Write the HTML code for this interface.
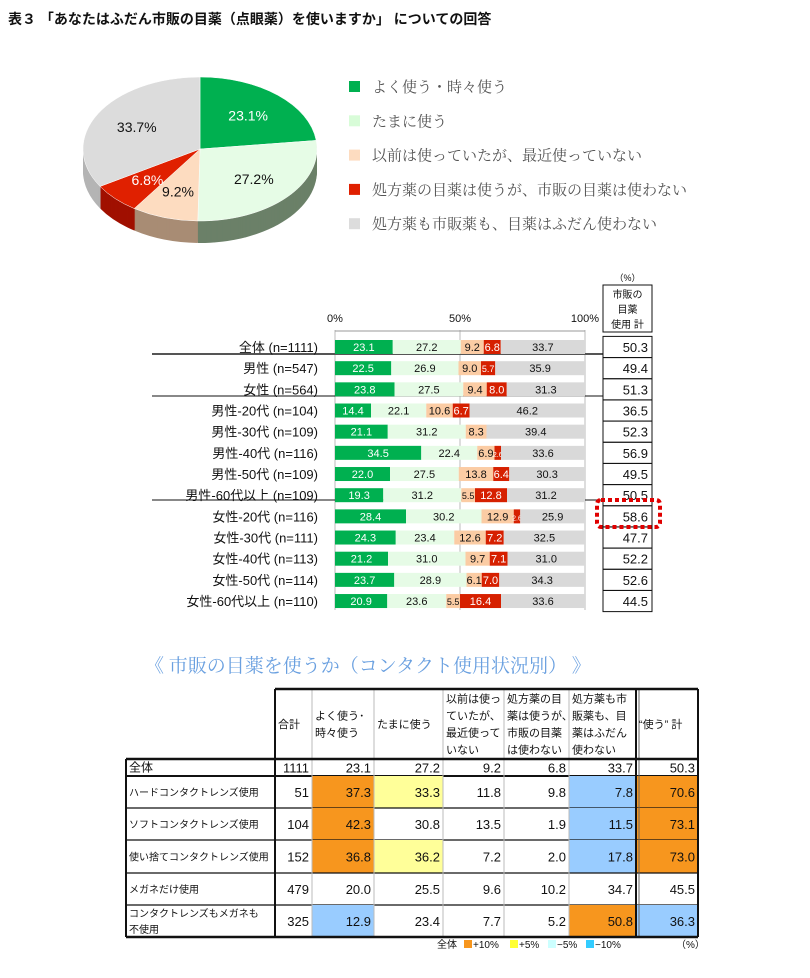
<!DOCTYPE html>
<html><head><meta charset="utf-8">
<style>
body{margin:0;background:#fff;}
svg{display:block;font-family:"Liberation Sans","Noto Sans CJK JP",sans-serif;}
</style></head>
<body>
<svg id="s" width="810" height="978" viewBox="0 0 810 978" xmlns="http://www.w3.org/2000/svg">
<text x="8" y="24" font-size="14" font-weight="bold" fill="#111">表３ 「あなたはふだん市販の目薬（点眼薬）を使いますか」 についての回答</text>
<g id="pie"></g>
<g id="legend"></g>
<g id="bars"></g>
<text x="145" y="672" font-size="19" fill="#6aa0e0" font-family="'Liberation Serif','Noto Serif CJK JP',serif">《 市販の目薬を使うか（コンタクト使用状況別） 》</text>
<g id="tbl"></g>
</svg>
<script>
const NS="http://www.w3.org/2000/svg";
const pieCategories=["よく使う・時々使う","たまに使う","以前は使っていたが、最近使っていない","処方薬の目薬は使うが、市販の目薬は使わない","処方薬も市販薬も、目薬はふだん使わない"];
const pieValues=[23.1,27.2,9.2,6.8,33.7];
const pieColors=["#00b050","#e6fce6","#fddcc0","#e02000","#dcdcdc"];
const pieSide=["#2f7a4a","#6b8068","#a88c74","#a01000","#b4b4b4"];
const pieLabelColors=["#fff","#111","#111","#fff","#111"];

const barCategories=["全体 (n=1111)","男性 (n=547)","女性 (n=564)","男性-20代 (n=104)","男性-30代 (n=109)","男性-40代 (n=116)","男性-50代 (n=109)","男性-60代以上 (n=109)","女性-20代 (n=116)","女性-30代 (n=111)","女性-40代 (n=113)","女性-50代 (n=114)","女性-60代以上 (n=110)"];
const serOften=[23.1,22.5,23.8,14.4,21.1,34.5,22.0,19.3,28.4,24.3,21.2,23.7,20.9];
const serSometimes=[27.2,26.9,27.5,22.1,31.2,22.4,27.5,31.2,30.2,23.4,31.0,28.9,23.6];
const serFormer=[9.2,9.0,9.4,10.6,8.3,6.9,13.8,5.5,12.9,12.6,9.7,6.1,5.5];
const serRxOnly=[6.8,5.7,8.0,6.7,0,2.6,6.4,12.8,2.6,7.2,7.1,7.0,16.4];
const serNever=[33.7,35.9,31.3,46.2,39.4,33.6,30.3,31.2,25.9,32.5,31.0,34.3,33.6];
const useTotal=[50.3,49.4,51.3,36.5,52.3,56.9,49.5,50.5,58.6,47.7,52.2,52.6,44.5];
const axisTicks=["0%","50%","100%"];
const axisTickValues=[0,50,100];

const tblRows=["全体","ハードコンタクトレンズ使用","ソフトコンタクトレンズ使用","使い捨てコンタクトレンズ使用","メガネだけ使用","コンタクトレンズもメガネも|不使用"];
const tblN=[1111,51,104,152,479,325];
const tblOften=[23.1,37.3,42.3,36.8,20.0,12.9];
const tblSometimes=[27.2,33.3,30.8,36.2,25.5,23.4];
const tblFormer=[9.2,11.8,13.5,7.2,9.6,7.7];
const tblRx=[6.8,9.8,1.9,2.0,10.2,5.2];
const tblNever=[33.7,7.8,11.5,17.8,34.7,50.8];
const tblUse=[50.3,70.6,73.1,73.0,45.5,36.3];

function el(tag,attrs,parent,txt){const e=document.createElementNS(NS,tag);for(const k in attrs)e.setAttribute(k,attrs[k]);if(txt!==undefined)e.textContent=txt;parent.appendChild(e);return e;}

/* PIE */
const pie=document.getElementById('pie');
const cx=200,cy=149,rx=117,ry=72,depth=22;
function slicePath(a0,a1,dy){
  const p=t=>[cx+rx*Math.cos(t),cy+dy+ry*Math.sin(t)];
  const s=p(a0),e=p(a1),large=(a1-a0)>Math.PI?1:0;
  return `M${cx},${cy+dy}L${s[0]},${s[1]}A${rx},${ry} 0 ${large} 1 ${e[0]},${e[1]}Z`;
}
const pieTotal=pieValues.reduce((a,b)=>a+b,0);
for(let d=depth;d>=1;d--){
  let a=-Math.PI/2;
  pieValues.forEach((v,i)=>{const a1=a+v/pieTotal*2*Math.PI;
    const s=el('path',{d:slicePath(a,a1,d),fill:pieSide[i]},pie);
    
    
    a=a1;});
}
let ang=-Math.PI/2;
pieValues.forEach((v,i)=>{
  const a1=ang+v/pieTotal*2*Math.PI;
  const s=el('path',{d:slicePath(ang,a1,0),fill:pieColors[i],stroke:"#fff","stroke-width":"0.5"},pie);
  
  
  const m=(ang+a1)/2;
  const lx=cx+rx*0.62*Math.cos(m),ly=cy+ry*0.62*Math.sin(m)+5;
  const t=el('text',{x:lx,y:ly,"font-size":"14","text-anchor":"middle",fill:pieLabelColors[i]},pie,v.toFixed(1)+"%");
  
  
  ang=a1;
});

/* LEGEND */
const lg=document.getElementById('legend');
pieCategories.forEach((c,i)=>{
  const y=87+i*34.3;
  const r=el('rect',{x:349,y:y-6,width:11,height:11,fill:i==1?"#d8fcd8":pieColors[i]},lg);
  
  
  const t=el('text',{x:372,y:y+5,"font-size":"15",fill:"#555","font-family":"'Liberation Serif','Noto Serif CJK JP',serif"},lg,c);
  
  
});

/* BARS */
const bg=document.getElementById('bars');
const x0=335,x1=585;
const xs=v=>x0+(x1-x0)*v/100;
const rowY=i=>347+i*21.17;
const segs=[serOften,serSometimes,serFormer,serRxOnly,serNever];
const segCol=["#00b050","#e6fbe6","#fbcca4","#d62000","#d9d9d9"];
const segTxt=["#fff","#111","#111","#fff","#111"];
axisTickValues.forEach((v,i)=>{
  const t=el('text',{x:xs(v),y:322,"font-size":"11","text-anchor":"middle",fill:"#111"},bg,axisTicks[i]);
  
  
  const g=el('line',{x1:xs(v),x2:xs(v),y1:330,y2:610,stroke:"#bbb","stroke-width":"1"},bg);
  
  
});
const ax=el('line',{x1:x0,x2:x1,y1:331,y2:331,stroke:"#999"},bg);


[[354,"#555",2],[396,"#111",1],[500,"#111",1]].forEach((s,i)=>{
  const l=el('line',{x1:152,x2:603,y1:s[0],y2:s[0],stroke:s[1],"stroke-width":s[2]},bg);
  
  
});
barCategories.forEach((c,i)=>{
  const y=rowY(i);
  const lab=el('text',{x:318,y:y+5,"font-size":"13","text-anchor":"end",fill:"#111"},bg,c);
  
  
  let acc=0;
  segs.forEach((s,j)=>{
    const v=s[i];
    const r=el('rect',{x:xs(acc),y:y-7,width:xs(acc+v)-xs(acc),height:14,fill:segCol[j]},bg);
    
    
    if(v>0){
      const small=v<6;
      const t=el('text',{x:xs(acc+v/2),y:y+4,"font-size":small?(v<4?"7":"9"):"11","text-anchor":"middle",fill:segTxt[j]},bg,v.toFixed(1));
      
      
    }
    acc+=v;
  });
});
/* right box */
const bx=603,bw=49;
const hb=el('rect',{x:bx,y:285,width:bw,height:47,fill:"none",stroke:"#111"},bg);


["市販の","目薬","使用 計"].forEach((t,i)=>{
  const e=el('text',{x:bx+bw/2,y:298+i*15,"font-size":"10","text-anchor":"middle",fill:"#111"},bg,t);
  
  
});
const pc=el('text',{x:bx+bw/2,y:281,"font-size":"9","text-anchor":"middle",fill:"#111"},bg,"（%）");


useTotal.forEach((v,i)=>{
  const y=rowY(i);
  const r=el('rect',{x:bx,y:y-10.6,width:bw,height:21.17,fill:"none",stroke:"#111"},bg);
  
  
  const t=el('text',{x:bx+bw-4,y:y+5,"font-size":"13","text-anchor":"end",fill:"#111"},bg,v.toFixed(1));
  
  
});
const hl=el('rect',{x:597,y:500,width:63,height:27,rx:4,fill:"none",stroke:"#e00000","stroke-width":"4","stroke-dasharray":"4 3"},bg);



/* TABLE */
const tg=document.getElementById('tbl');
const cols=[126,275,312,374,443,504,569,636,698];
const rowTops=[759,776,808,840,873,905,937];
const hTop=689;
const heads=[["合計"],["よく使う･","時々使う"],["たまに使う"],["以前は使っ","ていたが、","最近使って","いない"],["処方薬の目","薬は使うが、","市販の目薬","は使わない"],["処方薬も市","販薬も、目","薬はふだん","使わない"],["“使う” 計"]];
function fillFor(c,v){
  const base=[null,tblOften[0],tblSometimes[0],tblFormer[0],tblRx[0],tblNever[0],tblUse[0]][c];
  const d=v-base;
  if(d>=10)return "#f7961e"; if(d>=5)return "#ffff99";
  if(d<=-10)return "#99ccff"; if(d<=-5)return "#ccffff";
  return null;
}
const dataCols=[tblN,tblOften,tblSometimes,tblFormer,tblRx,tblNever,tblUse];
tblRows.forEach((name,r)=>{
  const yt=rowTops[r],yb=rowTops[r+1],ym=(yt+yb)/2;
  dataCols.forEach((arr,c)=>{
    const v=arr[r];
    const f=(c>0&&r>0)?fillFor(c,v):null;
    if(f){const b=el('rect',{x:cols[c+1],y:yt,width:cols[c+2]-cols[c+1],height:yb-yt,fill:f},tg);
      
      }
    const t=el('text',{x:cols[c+2]-3,y:ym+5,"font-size":"13","text-anchor":"end",fill:"#111"},tg,c==0?String(v):v.toFixed(1));
    
    
  });
  const parts=name.split('|');
  parts.forEach((p,k)=>{
    const t=el('text',{x:129,y:ym+4+(parts.length>1?(k==0?-8:8):0),"font-size":r==0?"12":"10",fill:"#111"},tg,p);
    
    
  });
  const ln=el('line',{x1:126,x2:698,y1:yb,y2:yb,stroke:"#111","stroke-width":r==0?2:1.2},tg);
  
  
});
heads.forEach((h,c)=>{
  const x=cols[c+1]+3;
  const n=h.length,start=724-(n-1)*8.5;
  h.forEach((ln,k)=>{
    const t=el('text',{x:x,y:start+k*17+4,"font-size":"11",fill:"#111"},tg,ln);
    
    
  });
});
cols.forEach((x,i)=>{
  if(i==0)return;
  const thick=(i==1||i==8||i==7);
  const l=el('line',{x1:x,x2:x,y1:(i==1?hTop:(i<=1?759:hTop)),y2:937,stroke:thick?"#111":"#bbb","stroke-width":thick?2:1},tg);
  
  
});
[el('line',{x1:639,x2:639,y1:hTop,y2:937,stroke:"#666","stroke-width":1},tg),
 el('line',{x1:275,x2:698,y1:hTop,y2:hTop,stroke:"#111","stroke-width":2.5},tg),
 el('line',{x1:126,x2:126,y1:759,y2:937,stroke:"#111","stroke-width":2},tg),
 el('line',{x1:126,x2:698,y1:759,y2:759,stroke:"#111","stroke-width":2.5},tg),
 el('line',{x1:126,x2:698,y1:937,y2:937,stroke:"#111","stroke-width":2.5},tg)].forEach(l=>{
  
  
});
/* table legend */
const lgItems=[["#f7961e","+10%"],["#ffff33","+5%"],["#ccffff","−5%"],["#33ccff","−10%"]];
const tl=el('text',{x:437,y:948,"font-size":"10",fill:"#111"},tg,"全体");


let lx=464;
lgItems.forEach((it,i)=>{
  const r=el('rect',{x:lx,y:940,width:8,height:8,fill:it[0]},tg);
  
  
  const t=el('text',{x:lx+9,y:948,"font-size":"10",fill:"#111"},tg,it[1]);
  
  
  lx+=i==0?46:(i==3?40:38);
});
const tu=el('text',{x:676,y:948,"font-size":"10",fill:"#111"},tg,"（%）");


</script>
</body></html>
